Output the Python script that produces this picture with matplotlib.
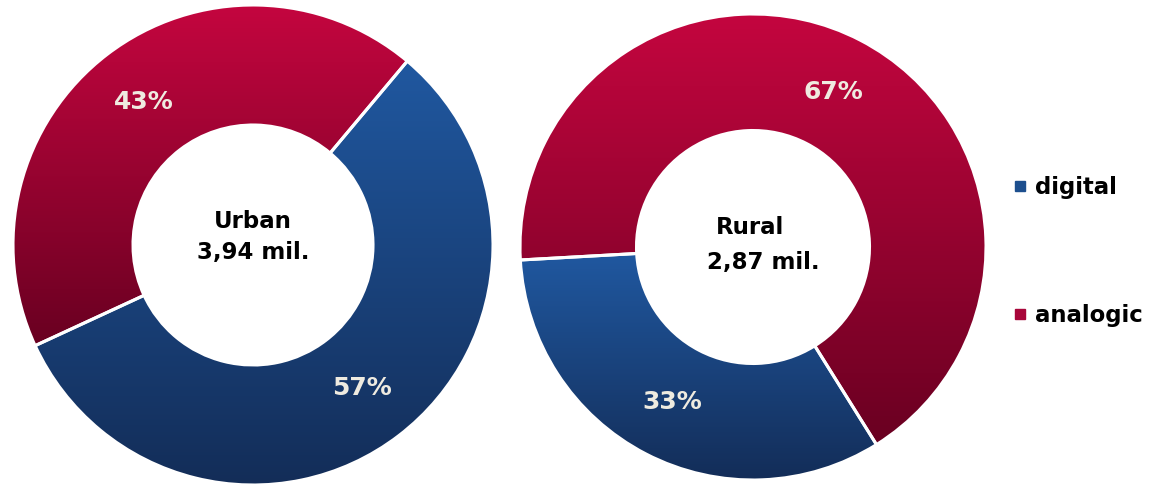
import numpy as np
import matplotlib.pyplot as plt
from matplotlib.colors import LinearSegmentedColormap
from matplotlib.lines import Line2D

# %% Data
categories = ['digital', 'analogic']
urban_values = [57, 43]
rural_values = [33, 67]
urban_title = ['Urban', '3,94 mil.']
rural_title = ['Rural', '2,87 mil.']

# %% Style
W, H, DPI = 1150, 487, 100
blue_top, blue_bot = '#2058A0', '#132D58'
red_top, red_bot = '#C4063F', '#690021'
label_col = '#EFEBE0'
FONT = 'DejaVu Sans'

cmap_blue = LinearSegmentedColormap.from_list('blue', [blue_bot, blue_top])
cmap_red = LinearSegmentedColormap.from_list('red', [red_bot, red_top])

fig = plt.figure(figsize=(W/DPI, H/DPI), dpi=DPI)
ax = fig.add_axes([0, 0, 1, 1])

grad = np.linspace(0, 1, 256).reshape(-1, 1)


def donut(values, center, radius, start):
    wedges, texts, autotexts = ax.pie(
        values, startangle=start, counterclock=False, center=center,
        radius=radius, pctdistance=0.75, autopct=lambda p: '%.0f%%' % p,
        wedgeprops=dict(width=radius*0.5, edgecolor='white', linewidth=2.2),
        textprops=dict(color=label_col, fontsize=18, fontweight='bold',
                       family=FONT))
    for w, cm in zip(wedges, [cmap_blue, cmap_red]):
        w.set_facecolor('none')
        bb = w.get_path().get_extents()
        im = ax.imshow(grad, cmap=cm, origin='lower', aspect='auto',
                       extent=[bb.x0, bb.x1, bb.y0, bb.y1], zorder=0.5)
        im.set_clip_path(w)
        w.set_zorder(1)
    for t in autotexts:
        t.set_zorder(3)
    return wedges


donut(urban_values, (253, 242), 240, 50)
donut(rural_values, (753, 240), 233, -58)

txt = dict(ha='center', va='center', fontsize=16.5, fontweight='bold',
           family=FONT)
ax.text(253, 265, urban_title[0], **txt)
ax.text(253, 235, urban_title[1], **txt)
ax.text(750, 259, rural_title[0], **txt)
ax.text(763, 225, rural_title[1], **txt)

handles = [Line2D([], [], ls='none', marker='s', markersize=6.5,
                  markerfacecolor=c, markeredgecolor=c)
           for c in ['#1D4F8E', '#A8063A']]
ax.legend(handles, categories, loc='center left',
          bbox_to_anchor=(1014/W, 1 - 251.5/H), frameon=False,
          borderpad=0, borderaxespad=0, handlelength=0.5,
          handletextpad=0.4, labelspacing=4.6,
          prop=dict(family=FONT, weight='bold', size=16.4))

ax.set_xlim(0, W)
ax.set_ylim(0, H)
ax.set_aspect('equal')
ax.axis('off')

plt.savefig('out.png', dpi=DPI)
